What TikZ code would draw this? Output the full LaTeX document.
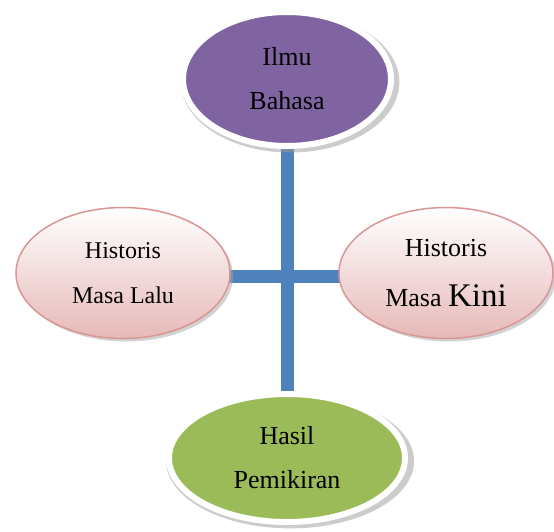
\documentclass[tikz,border=0pt]{standalone}
\usepackage{fontspec}
\setmainfont{Liberation Serif}
\usetikzlibrary{shapes.geometric,shadows,backgrounds}

\definecolor{ilmuviolet}{HTML}{8064A2}
\definecolor{hasilgreen}{HTML}{9BBB59}
\definecolor{crossblue}{HTML}{4F81BD}
\definecolor{roseline}{HTML}{D99694}
\definecolor{rosefill}{HTML}{E6B9B8}

\begin{document}
\begin{tikzpicture}[x=1pt, y=-1pt,
      every node/.style = {shape=ellipse, align=center, inner sep=0pt},
      ringed/.style = {draw=white, line width=6pt,
        drop shadow={shadow xshift=3pt, shadow yshift=-3pt,
          shadow scale=1.05, fill=black!40}},
      pastel/.style = {draw=roseline, line width=1.5pt,
        top color=white, bottom color=rosefill,
        drop shadow={shadow xshift=3pt, shadow yshift=-3pt,
          shadow scale=1.0, fill=black!35},
        minimum width=214pt, minimum height=131pt,
        font=\fontsize{24}{45}\selectfont},
      bar/.style = {draw=crossblue, line width=13pt}]
  \useasboundingbox (0,0) rectangle (554,531);
  % the four topics
  \node[ringed, fill=ilmuviolet, minimum width=208pt, minimum height=134pt,
        font=\fontsize{26}{44}\selectfont] (ilmu) at (287,79) {Ilmu\\Bahasa};
  \node[pastel] (lalu) at (123,273) {Historis\\Masa Lalu};
  \node[pastel, font=\fontsize{26}{50}\selectfont] (kini) at (446,273)
        {Historis\\Masa {\fontsize{33}{50}\selectfont Kini}};
  \node[ringed, fill=hasilgreen, minimum width=236pt, minimum height=128pt,
        font=\fontsize{26}{44}\selectfont] (hasil) at (287,458) {Hasil\\Pemikiran};
  % the cross behind them
  \begin{scope}[on background layer]
    \draw[bar] (ilmu.center) -- (hasil.center);
    \draw[bar] ([yshift=-3pt]lalu.center) -- ([yshift=-3pt]kini.center);
  \end{scope}
\end{tikzpicture}
\end{document}
